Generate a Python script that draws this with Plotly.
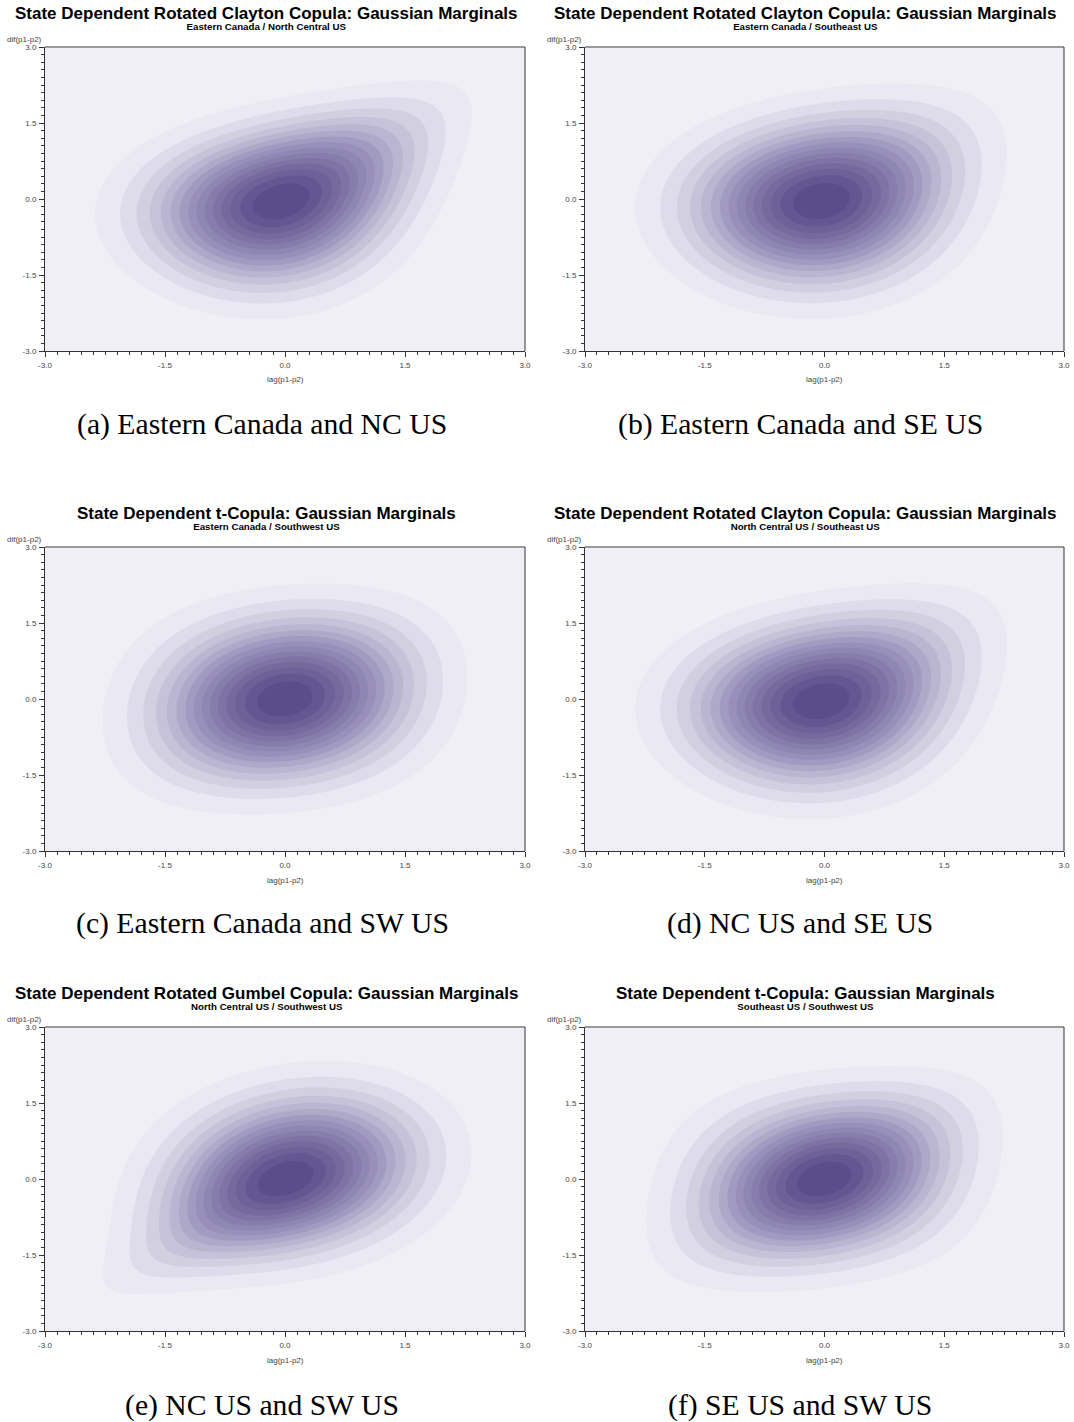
import math
import numpy as np
import plotly.graph_objects as go

# ---- panel content -------------------------------------------------------
TITLES = [
    "State Dependent Rotated Clayton Copula: Gaussian Marginals",
    "State Dependent Rotated Clayton Copula: Gaussian Marginals",
    "State Dependent t-Copula: Gaussian Marginals",
    "State Dependent Rotated Clayton Copula: Gaussian Marginals",
    "State Dependent Rotated Gumbel Copula: Gaussian Marginals",
    "State Dependent t-Copula: Gaussian Marginals",
]
SUBTITLES = [
    "Eastern Canada / North Central US",
    "Eastern Canada / Southeast US",
    "Eastern Canada / Southwest US",
    "North Central US / Southeast US",
    "North Central US / Southwest US",
    "Southeast US / Southwest US",
]
CAPTIONS = [
    "(a) Eastern Canada and NC US",
    "(b) Eastern Canada and SE US",
    "(c) Eastern Canada and SW US",
    "(d) NC US and SE US",
    "(e) NC US and SW US",
    "(f) SE US and SW US",
]
# copula family and parameters for each panel
FAMILY = ["rclayton", "rclayton", "t", "rclayton", "rgumbel", "t"]
THETA = [0.48, 0.25, 0.15, 0.30, 1.24, 0.24]   # Clayton/Gumbel theta, or t-copula rho
DOF = [None, None, 15.0, None, None, 8.0]      # t-copula degrees of freedom

TICK_VALUES = [-3.0, -1.5, 0.0, 1.5, 3.0]
TICK_LABELS = ["-3.0", "-1.5", "0.0", "1.5", "3.0"]
X_LABEL = "lag(p1-p2)"
Y_LABEL = "dif(p1-p2)"
N_LEVELS = 16

# ---- density helpers -----------------------------------------------------
_erf = np.vectorize(math.erf)


def norm_cdf(x):
    return 0.5 * (1.0 + _erf(x / math.sqrt(2.0)))


def norm_pdf(x):
    return np.exp(-0.5 * x * x) / math.sqrt(2.0 * math.pi)


def clayton_density(u, v, th):
    s = u ** (-th) + v ** (-th) - 1.0
    return (1.0 + th) * (u * v) ** (-th - 1.0) * s ** (-1.0 / th - 2.0)


def gumbel_density(u, v, th):
    a = -np.log(u)
    b = -np.log(v)
    A = a ** th + b ** th
    w = A ** (1.0 / th)
    C = np.exp(-w)
    return C * (a * b) ** (th - 1.0) / (u * v) * A ** (1.0 / th - 2.0) * (w + th - 1.0)


def t_quantile_table(nu):
    t = np.linspace(-150.0, 150.0, 600001)
    logc = math.lgamma((nu + 1) / 2) - math.lgamma(nu / 2) - 0.5 * math.log(nu * math.pi)
    pdf = np.exp(logc - (nu + 1) / 2 * np.log1p(t * t / nu))
    cdf = np.concatenate([[0.0], np.cumsum(0.5 * (pdf[1:] + pdf[:-1]) * np.diff(t))])
    cdf = cdf / cdf[-1]
    return t, cdf, logc


def t_copula_density(u, v, rho, nu):
    t, cdf, logc = t_quantile_table(nu)
    a = np.interp(u, cdf, t)
    b = np.interp(v, cdf, t)
    log_f1 = lambda z: logc - (nu + 1) / 2 * np.log1p(z * z / nu)
    log_f2 = (math.lgamma((nu + 2) / 2) - math.lgamma(nu / 2)
              - math.log(nu * math.pi * math.sqrt(1 - rho * rho))
              - (nu + 2) / 2 * np.log1p((a * a - 2 * rho * a * b + b * b) / (nu * (1 - rho * rho))))
    return np.exp(log_f2 - log_f1(a) - log_f1(b))


grid = np.linspace(-3.0, 3.0, 181)
GX, GY = np.meshgrid(grid, grid)
U = norm_cdf(GX)
V = norm_cdf(GY)
Us = norm_cdf(-GX)   # 1 - U
Vs = norm_cdf(-GY)   # 1 - V
marg = norm_pdf(GX) * norm_pdf(GY)


def joint_density(family, theta, dof):
    if family == "rclayton":
        c = clayton_density(Us, Vs, theta)
    elif family == "rgumbel":
        c = gumbel_density(Us, Vs, theta)
    else:
        c = t_copula_density(U, V, theta, dof)
    return c * marg


# ---- layout geometry (pixels) -------------------------------------------
W, H = 1074, 1422
COL_X = [(45, 525), (585, 1064)]
ROW_Y = [(47, 351), (547, 851), (1027, 1331)]
COL_CENTER = [266, 805]
CAP_CENTER = [262, 800]
ROW_TITLE_TOP = [3, 503, 983]
CAPTION_Y = [425, 924, 1405]

BG = "#f0eff6"
MID = "#9c95bd"
DARK = "#5a4e8a"
AXIS = "#333333"
SANS = "Liberation Sans, Arial, sans-serif"
TICKFONT = dict(family=SANS, size=8, color="#444444")


def px_x(p):
    return p / W


def px_y(p):
    return 1 - p / H


fig = go.Figure()
annotations = []
shapes = []
layout_axes = {}

for i in range(6):
    r, c = divmod(i, 2)
    z = joint_density(FAMILY[i], THETA[i], DOF[i])
    zmax = float(z.max())
    step = zmax / N_LEVELS
    suffix = "" if i == 0 else str(i + 1)
    fig.add_trace(go.Contour(
        x=grid, y=grid, z=z,
        xaxis="x" + suffix, yaxis="y" + suffix,
        contours=dict(start=step, end=step * (N_LEVELS - 1) + 1e-12, size=step,
                      coloring="fill", showlines=False),
        line=dict(width=0),
        colorscale=[[0, BG], [0.5 / N_LEVELS, BG], [0.5, MID], [1.0, DARK]],
        zmin=0, zmax=zmax, showscale=False, hoverinfo="skip",
    ))
    x0, x1 = COL_X[c]
    y0, y1 = ROW_Y[r]
    common = dict(
        range=[-3, 3], tickvals=TICK_VALUES, ticktext=TICK_LABELS,
        showgrid=False, zeroline=False, showline=True, linecolor=AXIS, linewidth=1,
        ticks="outside", ticklen=5, tickcolor=AXIS, tickwidth=1, tickfont=TICKFONT,
        minor=dict(ticks="outside", dtick=0.15, tick0=-3, ticklen=3, tickcolor=AXIS, tickwidth=1),
        fixedrange=True, automargin=False,
    )
    layout_axes["xaxis" + suffix] = dict(common, domain=[px_x(x0), px_x(x1)],
                                         anchor="y" + suffix, ticklabelstandoff=1)
    layout_axes["yaxis" + suffix] = dict(common, domain=[px_y(y1), px_y(y0)],
                                         anchor="x" + suffix, ticklabelstandoff=1)
    # frame: light top edge, dark right edge
    shapes.append(dict(type="line", xref="paper", yref="paper",
                       x0=px_x(x0), x1=px_x(x1), y0=px_y(y0), y1=px_y(y0),
                       line=dict(color="#9a9a9a", width=2)))
    shapes.append(dict(type="line", xref="paper", yref="paper",
                       x0=px_x(x1), x1=px_x(x1), y0=px_y(y0), y1=px_y(y1),
                       line=dict(color=AXIS, width=1)))
    # title and subtitle as one two-line heading
    heading = ("<span style='font-size:17px'><b>" + TITLES[i] + "</b></span><br>"
               "<span style='font-size:9.7px'><b>" + SUBTITLES[i] + "</b></span>")
    annotations.append(dict(text=heading, x=px_x(COL_CENTER[c]), y=px_y(ROW_TITLE_TOP[r]),
                            xref="paper", yref="paper", xanchor="center", yanchor="top",
                            align="center", showarrow=False, borderpad=0,
                            font=dict(family=SANS, size=8.4, color="black")))
    annotations.append(dict(text=Y_LABEL, x=px_x(x0 - 40), y=px_y(y0 - 8),
                            xref="paper", yref="paper", xanchor="left", yanchor="middle",
                            showarrow=False, font=TICKFONT))
    annotations.append(dict(text=X_LABEL, x=px_x((x0 + x1) / 2), y=px_y(y1 + 29),
                            xref="paper", yref="paper", xanchor="center", yanchor="middle",
                            showarrow=False, font=TICKFONT))
    annotations.append(dict(text=CAPTIONS[i], x=px_x(CAP_CENTER[c]), y=px_y(CAPTION_Y[r]),
                            xref="paper", yref="paper", xanchor="center", yanchor="middle",
                            showarrow=False,
                            font=dict(family="Liberation Serif, DejaVu Serif, serif", size=29.7, color="black")))

fig.update_layout(
    width=W, height=H, margin=dict(l=0, r=0, t=0, b=0),
    paper_bgcolor="white", plot_bgcolor=BG, showlegend=False,
    annotations=annotations, shapes=shapes, **layout_axes,
)

fig.write_html("out.html")
